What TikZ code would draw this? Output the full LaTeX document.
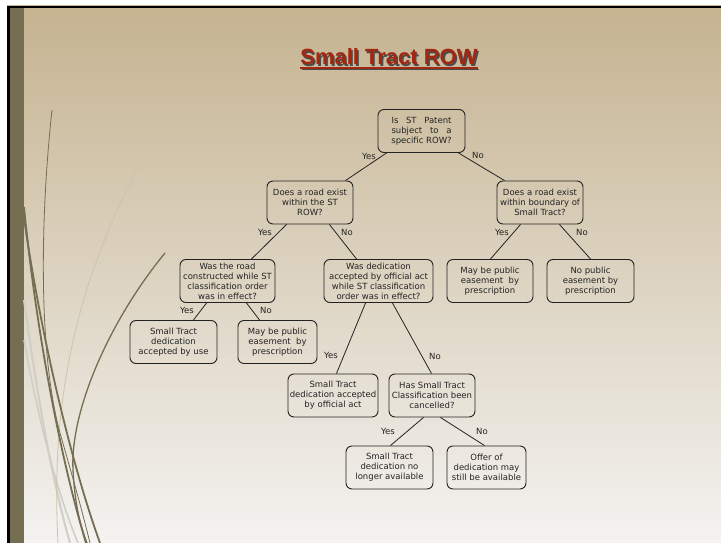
\documentclass[tikz,border=0pt]{standalone}
\usepackage{fontspec}
\usepackage{xcolor}
\usepackage{tikz}
\usetikzlibrary{calc}
\setmainfont{DejaVu Sans}
\newfontfamily\titlefont{Liberation Sans}
\definecolor{fundoTopo}  {RGB}{197, 179, 144}
\definecolor{fundoMeio}  {RGB}{226, 219, 205}
\definecolor{fundoBase}  {RGB}{244, 243, 241}
\definecolor{faixaOliva} {RGB}{118, 110,  82}
\definecolor{curvaClara} {RGB}{205, 196, 172}
\definecolor{curvaCinza} {RGB}{208, 206, 198}
\definecolor{tituloRed}  {RGB}{160,  40,  18}
\definecolor{textoEsc}   {RGB}{ 35,  35,  35}

\tikzset{
  caixa/.style={draw=textoEsc,line width=0.9pt,rounded corners=6pt,
                align=center,text=textoEsc,inner sep=1pt,minimum height=43pt,
                font=\fontsize{8.5}{10}\selectfont},
  rotulo/.style={text=textoEsc,inner sep=0pt,font=\fontsize{8.5}{10}\selectfont},
  ramo/.style={draw=textoEsc,line width=0.8pt}
}

\begin{document}
\begin{tikzpicture}[x=1pt,y=-1pt]

    \useasboundingbox (0,0) rectangle (721,543);

    % ── FUNDO DO SLIDE ─────────────────────────────────────
    \fill[white] (0,0) rectangle (721,543);
    \shade[top color=fundoTopo,middle color=fundoMeio,bottom color=fundoBase]
      (7,6) rectangle (721,543);
    \fill[black] (7,6) rectangle (721,8.5);
    \fill[black] (7,6) rectangle (10,543);
    \fill[faixaOliva] (10,8.5) rectangle (24,543);

    % ── CURVAS DECORATIVAS ─────────────────────────────────
    \draw[curvaCinza,line width=2pt]
      (24,300) .. controls (38,400) and (52,480) .. (70,543);
    \draw[curvaCinza,line width=1.6pt]
      (24,340) .. controls (40,430) and (60,500) .. (78,543);
    \draw[curvaClara,line width=0.8pt]
      (165,118) .. controls (95,240) and (48,360) .. (58,543);
    \draw[faixaOliva,line width=0.8pt]
      (52,110) .. controls (40,220) and (38,360) .. (62,440)
      .. controls (72,475) and (82,510) .. (90,543);
    \draw[faixaOliva,line width=1.8pt]
      (24,207) .. controls (35,320) and (58,450) .. (86,543);
    \draw[faixaOliva,line width=1.8pt]
      (24,218) .. controls (40,330) and (70,460) .. (100,543);
    \draw[faixaOliva,line width=1.3pt]
      (165,253) .. controls (110,320) and (70,410) .. (73,470)
      .. controls (75,505) and (80,525) .. (87,543);

    % ── TÍTULO ─────────────────────────────────────────────
    \node[anchor=base,inner sep=0pt,font=\titlefont\bfseries\fontsize{22}{24}\selectfont,
          text=black!70] at (390.5,66.5){Small Tract ROW};
    \node[anchor=base,inner sep=0pt,font=\titlefont\bfseries\fontsize{22}{24}\selectfont,
          text=tituloRed] (titulo) at (389,65){Small Tract ROW};
    \draw[black!70,line width=1.6pt]
      ([xshift=1.5pt,yshift=-4.5pt]titulo.base west) -- ([xshift=1.5pt,yshift=-4.5pt]titulo.base east);
    \draw[tituloRed,line width=1.6pt]
      ([yshift=-3pt]titulo.base west) -- ([yshift=-3pt]titulo.base east);

    % ── NÍVEL 1 ────────────────────────────────────────────
    \node[caixa,minimum width=87pt] (patent) at (421.5,131){
      \makebox[60pt][s]{Is ST Patent}\\\makebox[60pt][s]{subject to a}\\specific ROW?
    };

    % ── NÍVEL 2 ────────────────────────────────────────────
    \node[caixa,minimum width=86pt] (roadrow) at (310,202.5){
      Does a road exist\\within the ST\\ROW?
    };
    \node[caixa,minimum width=86pt] (roadbound) at (540,202.5){
      Does a road exist\\within boundary of\\Small Tract?
    };

    % ── NÍVEL 3 ────────────────────────────────────────────
    \node[caixa,minimum width=95pt] (built) at (227.5,281){
      Was the road\\constructed while ST\\classification order\\was in effect?
    };
    \node[caixa,minimum width=109pt] (official) at (378.5,281){
      Was dedication\\accepted by official act\\while ST classification\\order was in effect?
    };
    \node[caixa,minimum width=86pt] (prescB) at (490,281){
      May be public\\easement\ \ by\\prescription
    };
    \node[caixa,minimum width=87pt] (nopub) at (590.5,281){
      No public\\easement by\\prescription
    };

    % ── NÍVEL 4 ────────────────────────────────────────────
    \node[caixa,minimum width=87pt] (byuse) at (173.5,342){
      Small Tract\\dedication\\accepted by use
    };
    \node[caixa,minimum width=79pt] (presc) at (277.5,342){
      May be public\\easement\ \ by\\prescription
    };
    \node[caixa,minimum width=90pt] (offact) at (333,395.5){
      Small Tract\\dedication accepted\\by official act
    };
    \node[caixa,minimum width=86pt] (cancel) at (432,395.5){
      Has Small Tract\\Classification been\\cancelled?
    };

    % ── NÍVEL 5 ────────────────────────────────────────────
    \node[caixa,minimum width=87pt] (nolonger) at (389.5,467.5){
      Small Tract\\dedication no\\longer available
    };
    \node[caixa,minimum width=79pt] (still) at (486.5,467.5){
      Offer of\\dedication may\\still be available
    };

    % ── RAMOS ──────────────────────────────────────────────
    \draw[ramo] ([xshift=9pt]patent.south west)   -- ([xshift=-8pt]roadrow.north east);
    \draw[ramo] ([xshift=-7pt]patent.south east)  -- ([xshift=8pt]roadbound.north west);
    \draw[ramo] ([xshift=20pt]roadrow.south west) -- ([xshift=-24pt]built.north east);
    \draw[ramo] ([xshift=-24pt]roadrow.south east)-- ([xshift=33pt]official.north west);
    \draw[ramo] ([xshift=24pt]roadbound.south west) -- ([xshift=-43pt]prescB.north east);
    \draw[ramo] ([xshift=-24pt]roadbound.south east)-- ([xshift=44pt]nopub.north west);
    \draw[ramo] ([xshift=27pt]built.south west)   -- ([xshift=-24pt]byuse.north east);
    \draw[ramo] ([xshift=-29pt]built.south east)  -- ([xshift=22pt]presc.north west);
    \draw[ramo] ([xshift=42pt]official.south west)-- ([xshift=-42pt]offact.north east);
    \draw[ramo] ([xshift=-41pt]official.south east)-- ([xshift=43pt]cancel.north west);
    \draw[ramo] ([xshift=35pt]cancel.south west)  -- ([xshift=-43pt]nolonger.north east);
    \draw[ramo] ([xshift=-35pt]cancel.south east) -- ([xshift=38pt]still.north west);

    % ── RÓTULOS SIM / NÃO ──────────────────────────────────
    \node[rotulo] (simA) at (369,156){Yes};
    \node[rotulo] (naoA) at (478,155){No};
    \node[rotulo] (simB) at (265,232){Yes};
    \node[rotulo] (naoB) at (347,232){No};
    \node[rotulo] (simC) at (502,232){Yes};
    \node[rotulo] (naoC) at (582,232){No};
    \node[rotulo] (simD) at (187,310){Yes};
    \node[rotulo] (naoD) at (266,310){No};
    \node[rotulo] (simE) at (331,355){Yes};
    \node[rotulo] (naoE) at (435,356){No};
    \node[rotulo] (simF) at (388,431){Yes};
    \node[rotulo] (naoF) at (482,431){No};

  \end{tikzpicture}
\end{document}
